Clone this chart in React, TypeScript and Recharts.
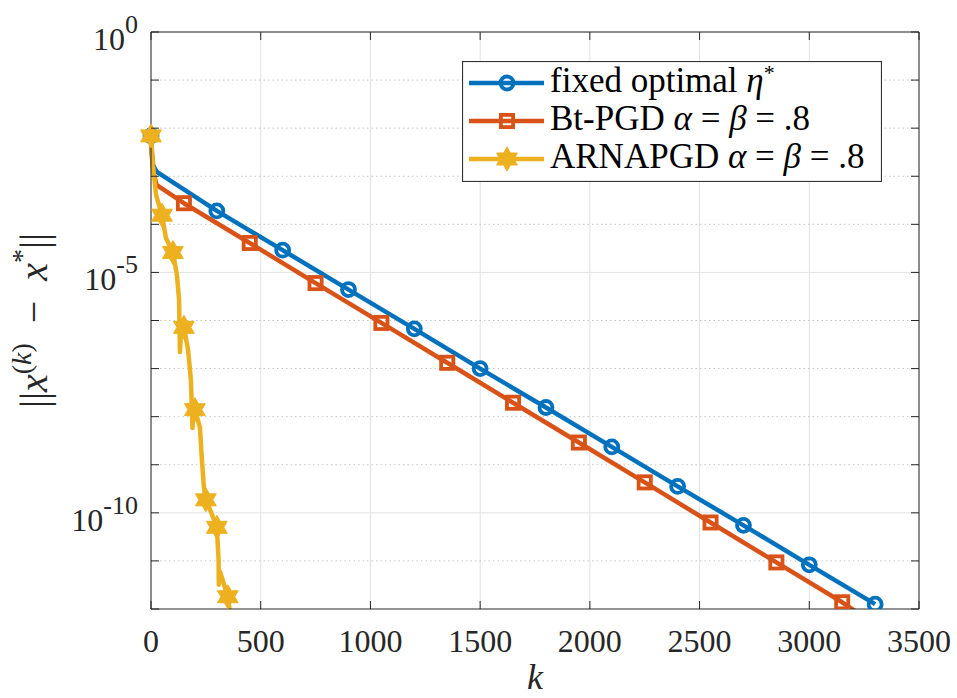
import { LineChart, Line, XAxis, YAxis, CartesianGrid, Legend } from "recharts"

const W = 957
const H = 698
// plot box in page pixels (chart sits at 0,0)
const PLOT = { left: 151, top: 32, right: 919, bottom: 609 }

const BLUE = "#0072BD"
const ORANGE = "#D95319"
const YELLOW = "#EDB120"
const AXIS = "#262626"
const SERIF = "Liberation Serif, DejaVu Serif, serif"

const xTicks = [0, 500, 1000, 1500, 2000, 2500, 3000, 3500]
const yTicks = [1, 1e-1, 1e-2, 1e-3, 1e-4, 1e-5, 1e-6, 1e-7, 1e-8, 1e-9, 1e-10, 1e-11, 1e-12]
const yMajor = [1, 1e-5, 1e-10]
const yMinor = [1e-1, 1e-2, 1e-3, 1e-4, 1e-6, 1e-7, 1e-8, 1e-9, 1e-11]

// fixed optimal eta*
const fixedK = [0, 4, 10, 25, 300, 600, 900, 1200, 1500, 1800, 2100, 2400, 2700, 3000, 3300]
const fixedErr = [6.9e-3, 3.0e-3, 1.7e-3, 1.25e-3, 1.9e-4, 2.9e-5, 4.4e-6, 6.7e-7, 1.0e-7, 1.55e-8, 2.35e-9, 3.55e-10, 5.5e-11, 8.3e-12, 1.26e-12]
const fixedMarks = [0, 300, 600, 900, 1200, 1500, 1800, 2100, 2400, 2700, 3000, 3300]

// Bt-PGD alpha = beta = .8
const btK = [0, 4, 10, 25, 150, 450, 750, 1050, 1350, 1650, 1950, 2250, 2550, 2850, 3150, 3210]
const btErr = [6.9e-3, 2.6e-3, 1.3e-3, 6.6e-4, 2.75e-4, 4.1e-5, 6.0e-6, 8.9e-7, 1.32e-7, 1.95e-8, 2.9e-9, 4.3e-10, 6.3e-11, 9.3e-12, 1.38e-12, 9.0e-13]
const btMarks = [150, 450, 750, 1050, 1350, 1650, 1950, 2250, 2550, 2850, 3150]

// ARNAPGD alpha = beta = .8
const arnK = [0, 9, 23, 50, 68, 100, 118, 128, 132, 139, 150, 169, 182, 189, 194, 200, 223, 232, 241, 250, 273, 300, 308, 309, 315, 333, 350, 358]
const arnErr = [6.9e-3, 1.7e-3, 4.1e-4, 1.55e-4, 5.2e-5, 2.6e-5, 8.9e-6, 2.7e-6, 2.2e-7, 9.3e-7, 7.2e-7, 2.45e-7, 5.8e-8, 5.8e-9, 1.75e-8, 1.4e-8, 6.0e-9, 1.26e-9, 3.5e-10, 1.86e-10, 1.05e-10, 5.0e-11, 1.05e-11, 3.2e-12, 5.9e-12, 3.2e-12, 1.8e-12, 1.0e-12]
const arnMarks = [0, 50, 100, 150, 200, 250, 300, 350]

const toRows = (ks: number[], errs: number[]) => ks.map((k, i) => ({ k, err: errs[i] }))
const fixedData = toRows(fixedK, fixedErr)
const btData = toRows(btK, btErr)
const arnData = toRows(arnK, arnErr)

function hexagram(cx: number, cy: number, R: number) {
  const pts: string[] = []
  for (let i = 0; i < 12; i++) {
    const a = ((-90 + i * 30) * Math.PI) / 180
    const r = i % 2 === 0 ? R : R / Math.sqrt(3)
    pts.push(`${cx + r * Math.cos(a)},${cy + r * Math.sin(a)}`)
  }
  return pts.join(" ")
}

const Circ = ({ cx, cy }: { cx: number; cy: number }) => (
  <circle cx={cx} cy={cy} r={6.5} fill="none" stroke={BLUE} strokeWidth={3.8} />
)
const Sq = ({ cx, cy }: { cx: number; cy: number }) => (
  <rect x={cx - 6.1} y={cy - 6.1} width={12.2} height={12.2} fill="none" stroke={ORANGE} strokeWidth={3.8} />
)
const Star = ({ cx, cy }: { cx: number; cy: number }) => (
  <polygon points={hexagram(cx, cy, 12)} fill={YELLOW} stroke={YELLOW} strokeWidth={1} strokeLinejoin="round" />
)

function markDot(marks: number[], Shape: any, tag: string) {
  return (p: any) => {
    const key = `${tag}-${p.index}`
    if (!marks.includes(p.payload?.k)) return <g key={key} />
    return <g key={key}><Shape cx={p.cx} cy={p.cy} /></g>
  }
}

const txt = { fontFamily: SERIF, fill: AXIS }

function XTick(props: any) {
  const { x, payload } = props
  return (
    <g>
      <line x1={x} x2={x} y1={PLOT.bottom} y2={PLOT.bottom - 8} stroke={AXIS} />
      <line x1={x} x2={x} y1={PLOT.top} y2={PLOT.top + 8} stroke={AXIS} />
      {payload.value === 3500 && <line x1={x} x2={x} y1={PLOT.top} y2={PLOT.bottom} stroke={AXIS} />}
      <text x={x} y={PLOT.bottom + 43} textAnchor="middle" fontSize={32} style={txt}>
        {payload.value}
      </text>
    </g>
  )
}

function YTick(props: any) {
  const { y, payload } = props
  const e = Math.round(Math.log10(payload.value))
  const labelled = e === 0 || e === -5 || e === -10
  return (
    <g>
      <line x1={PLOT.left} x2={PLOT.left + 8} y1={y} y2={y} stroke={AXIS} />
      <line x1={PLOT.right - 8} x2={PLOT.right} y1={y} y2={y} stroke={AXIS} />
      {e === 0 && <line x1={PLOT.left} x2={PLOT.right} y1={y} y2={y} stroke={AXIS} />}
      {labelled && (
        <text x={PLOT.left - 13} y={y + 18} textAnchor="end" fontSize={32} style={txt}>
          10<tspan dy={-17} fontSize={26}>{String(e)}</tspan>
        </text>
      )}
    </g>
  )
}

const XLabel = () => (
  <text x={(PLOT.left + PLOT.right) / 2} y={689} textAnchor="middle" fontSize={36} fontStyle="italic" style={txt}>k</text>
)

const YLabel = () => (
  <text transform={`translate(47,${(PLOT.top + PLOT.bottom) / 2}) rotate(-90)`} textAnchor="middle" fontSize={40} style={txt}>
    ||<tspan fontStyle="italic">x</tspan>
    <tspan dy={-16} fontSize={28}>(<tspan fontStyle="italic">k</tspan>)</tspan>
    <tspan dy={16}>{"\u2002\u2212\u2002"}</tspan>
    <tspan fontStyle="italic">x</tspan>
    <tspan dy={-16} fontSize={28}>*</tspan>
    <tspan dy={16}>||</tspan>
  </text>
)

function LegendBox() {
  const rows = [
    { color: BLUE, Shape: Circ, y: 22, tb: 31, label: (<>fixed optimal <tspan fontStyle="italic">η</tspan><tspan dy={-12} fontSize={22}>*</tspan></>) },
    { color: ORANGE, Shape: Sq, y: 60, tb: 69, label: (<>Bt-PGD <tspan fontStyle="italic">α</tspan> = <tspan fontStyle="italic">β</tspan> = .8</>) },
    { color: YELLOW, Shape: Star, y: 98, tb: 107, label: (<>ARNAPGD <tspan fontStyle="italic">α</tspan> = <tspan fontStyle="italic">β</tspan> = .8</>) },
  ]
  return (
    <svg width={420} height={121} style={{ display: "block" }}>
      <rect x={0.5} y={0.5} width={419} height={120} fill="#fff" stroke="#333" strokeWidth={1.2} />
      {rows.map((r, i) => (
        <g key={i}>
          <line x1={7} x2={82} y1={r.y} y2={r.y} stroke={r.color} strokeWidth={4.5} />
          <r.Shape cx={45} cy={r.y} />
          <text x={88} y={r.tb} fontSize={35} style={{ fontFamily: SERIF, fill: "#000" }}>{r.label}</text>
        </g>
      ))}
    </svg>
  )
}

export default function App() {
  return (
    <div style={{ position: "absolute", left: 0, top: 0, background: "#fff" }}>
      <LineChart width={W} height={H} margin={{ top: 32, right: 38, left: 0, bottom: 29 }}>
        <CartesianGrid horizontal={false} stroke="#e2e2e2" />
        <CartesianGrid vertical={false} horizontalValues={yMajor} stroke="#e2e2e2" />
        <CartesianGrid vertical={false} horizontalValues={yMinor} stroke="#c4c4c4" strokeDasharray="1.5 3" />
        <XAxis
          dataKey="k"
          type="number"
          domain={[0, 3500]}
          ticks={xTicks}
          interval={0}
          tick={<XTick />}
          tickLine={false}
          tickSize={0}
          tickMargin={0}
          axisLine={{ stroke: AXIS }}
          height={60}
          label={{ content: () => <XLabel /> }}
        />
        <YAxis
          type="number"
          scale="log"
          domain={[1e-12, 1]}
          allowDataOverflow
          ticks={yTicks}
          interval={0}
          tick={<YTick />}
          tickLine={false}
          tickSize={0}
          tickMargin={0}
          axisLine={{ stroke: AXIS }}
          width={151}
          label={{ content: () => <YLabel /> }}
        />
        <Line data={fixedData} dataKey="err" type="linear" stroke={BLUE} strokeWidth={4.5} strokeLinejoin="round"
          dot={markDot(fixedMarks, Circ, "f")} activeDot={false} isAnimationActive={false} />
        <Line data={btData} dataKey="err" type="linear" stroke={ORANGE} strokeWidth={4.5} strokeLinejoin="round"
          dot={markDot(btMarks, Sq, "b")} activeDot={false} isAnimationActive={false} />
        <Line data={arnData} dataKey="err" type="linear" stroke={YELLOW} strokeWidth={4.5} strokeLinejoin="round"
          dot={markDot(arnMarks, Star, "a")} activeDot={false} isAnimationActive={false} />
        <Legend
          layout="vertical"
          align="center"
          verticalAlign="middle"
          content={() => <LegendBox />}
          wrapperStyle={{ left: 462, top: 61, width: 420, height: 121 }}
        />
      </LineChart>
    </div>
  )
}
